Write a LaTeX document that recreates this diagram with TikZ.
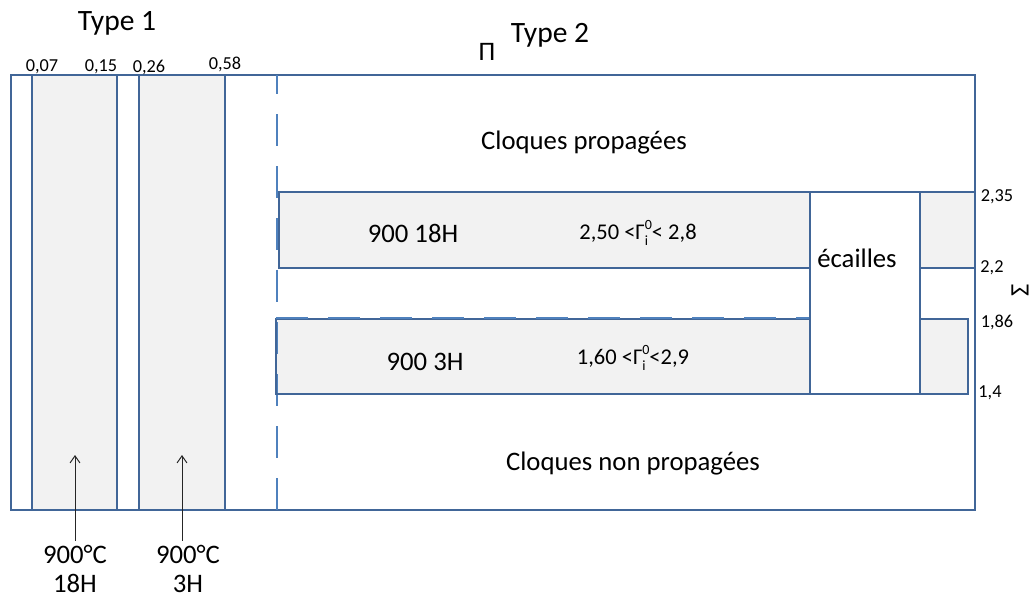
\documentclass[tikz,border=0pt]{standalone}
\usepackage{fontspec}
\setmainfont{Carlito}
\usepackage{xcolor}
\definecolor{frameblue}{RGB}{65,102,152}
\definecolor{dashblue}{RGB}{79,129,189}
\definecolor{zonegray}{RGB}{242,242,242}
\usetikzlibrary{arrows.meta,positioning}
\newcommand{\gammaio}{Γ\rlap{\raisebox{-0.28em}{\fontsize{10}{10}\selectfont i}}\raisebox{0.42em}{\fontsize{10}{10}\selectfont 0}}

\begin{document}
\begin{tikzpicture}[
  x=0.025cm,y=-0.025cm,
  zone/.style={fill=zonegray},
  frame/.style={draw=frameblue,line width=1.7pt},
  limit/.style={draw=dashblue,line width=1.7pt,dash pattern=on 0.8cm off 0.5cm},
  title/.style={font=\fontsize{21}{24}\selectfont},
  zonelabel/.style={font=\fontsize{19}{22}\selectfont},
  gammalabel/.style={font=\fontsize{16}{19}\selectfont},
  tick/.style={font=\fontsize{13}{15}\selectfont},
  temp/.style={font=\fontsize{19}{20}\selectfont,align=center},
  pointer/.style={-{Straight Barb[length=5pt,width=7pt]},line width=0.7pt,black!85}
]
  \useasboundingbox (0,0) rectangle (1035,599);

  % fonds gris
  \fill[zone] (32,75) rectangle (117,510);
  \fill[zone] (139,75) rectangle (225,510);
  \fill[zone] (279,192) rectangle (810,268);
  \fill[zone] (276,319) rectangle (810,394);
  \fill[zone] (920,192) rectangle (975,268);
  \fill[zone] (920,319) rectangle (968,394);

  % type 1
  \draw[frame] (11,75) rectangle (975,510);
  \foreach \x in {32,117,139,225}
    \draw[frame] (\x,75) -- (\x,510);
  \draw[limit] (277,510) -- (277,75);

  % type 2
  \draw[frame] (279,192) rectangle (810,268);
  \draw[frame] (276,319) rectangle (810,394);
  \draw[limit,line width=1.2pt] (276,318) -- (810,318);
  \draw[frame,fill=white] (810,192) rectangle (920,394);
  \draw[frame] (920,192) -- (975,192);
  \draw[frame] (920,268) -- (975,268);
  \draw[frame] (920,319) -- (968,319) -- (968,394) -- (920,394);

  % titres
  \node[title] (type1) at (117,23) {Type 1};
  \node[title] (type2) at (550,35) {Type 2};
  \node[zonelabel] (pi) at (487,52) {Π};
  \node[zonelabel,rotate=90] (sigma) at (1020,290) {Σ};

  % graduations
  \node[tick] (t007) at (42,67) {0,07};
  \node[tick] (t015) at (101,67) {0,15};
  \node[tick] (t026) at (149,67) {0,26};
  \node[tick] (t058) at (225,64) {0,58};
  \node[tick] (s235) at (997,197) {2,35};
  \node[tick] (s22) at (992,268) {2,2};
  \node[tick] (s186) at (997,322) {1,86};
  \node[tick] (s14) at (990,393) {1,4};

  % zones
  \node[zonelabel] (prop) at (584,143) {Cloques propagées};
  \node[zonelabel] (nonprop) at (633,464) {Cloques non propagées};
  \node[zonelabel] (h18) at (413,233) {900 18H};
  \node[zonelabel] (h3) at (425,362) {900 3H};
  \node[gammalabel] (g18) at (638,233) {2,50 <\gammaio< 2,8};
  \node[gammalabel] (g3) at (633,358) {1,60 <\gammaio<2,9};
  \node[zonelabel] (ecailles) at (857,258) {écailles};

  % traitements type 1
  \node[temp] (c18) at (75,569) {900°C\\18H};
  \node[temp] (c3) at (188,569) {900°C\\3H};
  \coordinate (p18) at (75,455);
  \coordinate (p3) at (182,455);
  \draw[pointer] (c18.north) -- (p18);
  \draw[pointer] (c3.north -| p3) -- (p3);
\end{tikzpicture}
\end{document}
